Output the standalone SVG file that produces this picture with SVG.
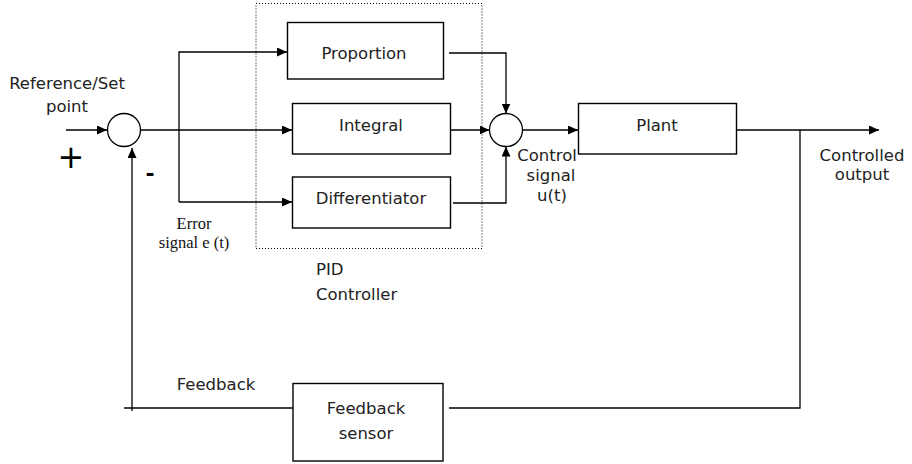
<svg xmlns="http://www.w3.org/2000/svg" width="912" height="464" viewBox="0 0 912 464">
<defs>
<marker id="arr" markerWidth="11" markerHeight="9" refX="10" refY="4.5" orient="auto" markerUnits="userSpaceOnUse">
<path d="M0,0 L10,4.5 L0,9 Z" fill="#000"/>
</marker>
<style>
.box{fill:#fff;stroke:#000;stroke-width:1.4}
.ln{fill:none;stroke:#000;stroke-width:1.3}
.t{font-family:"DejaVu Sans",sans-serif;font-size:16.5px;fill:#222;text-anchor:middle}
.s{font-family:"Liberation Serif",serif;font-size:16.5px;fill:#111;text-anchor:middle}
</style>
</defs>
<rect width="912" height="464" fill="#fff"/>
<g id="pid-controller">
<rect x="256" y="3.5" width="226" height="245" fill="none" stroke="#000" stroke-width="1" stroke-dasharray="1,2"/>
<text class="t" x="316" y="275" style="text-anchor:start">PID</text>
<text class="t" x="316" y="300" style="text-anchor:start">Controller</text>
</g>
<g id="connectors">
<path class="ln" d="M66,130 H107" marker-end="url(#arr)"/>
<path class="ln" d="M140.5,130 H292" marker-end="url(#arr)"/>
<path class="ln" d="M179,202 V52 H287" marker-end="url(#arr)"/>
<path class="ln" d="M179,202 H292" marker-end="url(#arr)"/>
<path class="ln" d="M449,53 H506 V113.5" marker-end="url(#arr)"/>
<path class="ln" d="M450,130 H489.5" marker-end="url(#arr)"/>
<path class="ln" d="M453,203 H506 V146.5" marker-end="url(#arr)"/>
<path class="ln" d="M522.5,130 H578" marker-end="url(#arr)"/>
<path class="ln" d="M737,130 H879" marker-end="url(#arr)"/>
<path class="ln" d="M800,130 V408 H449"/>
<path class="ln" d="M293,408 H124"/>
<path class="ln" d="M132,411 V148" marker-end="url(#arr)"/>
</g>
<g id="sum-error">
<circle cx="124" cy="130" r="16.5" fill="#fff" stroke="#000" stroke-width="1.3"/>
</g>
<g id="sum-control">
<circle cx="506" cy="130" r="16.5" fill="#fff" stroke="#000" stroke-width="1.3"/>
</g>
<g id="proportion">
<rect class="box" x="287.5" y="22.5" width="156" height="56.5"/>
<text class="t" x="364" y="59">Proportion</text>
</g>
<g id="integral">
<rect class="box" x="292.5" y="103.5" width="158" height="50.5"/>
<text class="t" x="371" y="131">Integral</text>
</g>
<g id="differentiator">
<rect class="box" x="292.5" y="177" width="158" height="51"/>
<text class="t" x="371" y="204">Differentiator</text>
</g>
<g id="plant">
<rect class="box" x="578.5" y="103.5" width="158" height="50.5"/>
<text class="t" x="657" y="131">Plant</text>
</g>
<g id="feedback-sensor">
<rect class="box" x="293" y="383.5" width="150" height="77.5"/>
<text class="t" x="366" y="414">Feedback</text>
<text class="t" x="366" y="439">sensor</text>
</g>
<g id="labels">
<text class="t" x="67" y="89">Reference/Set</text>
<text class="t" x="67" y="112">point</text>
<text x="71" y="168" style="font-family:'DejaVu Sans',sans-serif;font-size:32px;text-anchor:middle;fill:#000">+</text>
<text x="150" y="181" style="font-family:'DejaVu Sans',sans-serif;font-size:22px;font-weight:bold;text-anchor:middle;fill:#000">-</text>
<text class="s" x="194" y="229">Error</text>
<text class="s" x="194" y="248">signal e (t)</text>
<text class="t" x="547" y="161">Control</text>
<text class="t" x="551" y="181">signal</text>
<text class="t" x="552" y="201">u(t)</text>
<text class="t" x="862" y="161">Controlled</text>
<text class="t" x="862" y="180">output</text>
<text class="t" x="216" y="390">Feedback</text>
</g>
</svg>
